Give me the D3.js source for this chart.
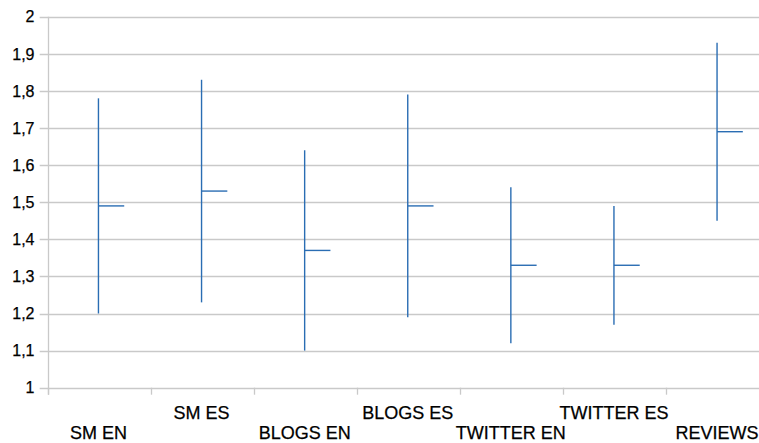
<!DOCTYPE html>
<html>
<head>
<meta charset="utf-8">
<script src="https://cdn.jsdelivr.net/npm/d3@7"></script>
<style>
  html, body { margin: 0; padding: 0; background: #fff; }
  svg { display: block; }
  text { font-family: "Liberation Sans", Arial, sans-serif; fill: #000; stroke: #000; stroke-width: 0.25px; }
</style>
</head>
<body>
<svg id="chart" width="759" height="443"></svg>
<script>
const categories = ["SM EN", "SM ES", "BLOGS EN", "BLOGS ES", "TWITTER EN", "TWITTER ES", "REVIEWS"];
const highValues = [1.78, 1.83, 1.64, 1.79, 1.54, 1.49, 1.93];
const lowValues  = [1.20, 1.23, 1.10, 1.19, 1.12, 1.17, 1.45];
const closeValues = [1.49, 1.53, 1.37, 1.49, 1.33, 1.33, 1.69];
const yTickValues = [1, 1.1, 1.2, 1.3, 1.4, 1.5, 1.6, 1.7, 1.8, 1.9, 2];

const svg = d3.select("#chart");
const plotLeft = 47.7, plotRight = 769.4, plotTop = 16.7, plotBottom = 387.7;

const x = d3.scaleBand().domain(categories).range([plotLeft, plotRight]).padding(0);
const y = d3.scaleLinear().domain([1, 2]).range([plotBottom, plotTop]);
const bw = x.bandwidth();
const cx = c => x(c) + bw / 2 - 0.8;

const gridColor = "#c9c9c9";
const lineColor = "#2a6db3";

// gridlines
svg.append("g").selectAll("line").data(yTickValues).join("line")
  .attr("x1", plotLeft - 8).attr("x2", 780)
  .attr("y1", d => Math.round(y(d)) + 0.5).attr("y2", d => Math.round(y(d)) + 0.5)
  .attr("stroke", gridColor).attr("stroke-width", 1.3);

// left axis line
svg.append("line")
  .attr("x1", Math.round(plotLeft) + 0.5).attr("x2", Math.round(plotLeft) + 0.5)
  .attr("y1", y(2)).attr("y2", y(1) + 7)
  .attr("stroke", gridColor).attr("stroke-width", 1.3);

// x ticks at band boundaries
const boundaries = categories.map(c => x(c));
svg.append("g").selectAll("line").data(boundaries).join("line")
  .attr("x1", d => Math.round(d) + 0.5).attr("x2", d => Math.round(d) + 0.5)
  .attr("y1", y(1)).attr("y2", y(1) + 7)
  .attr("stroke", gridColor).attr("stroke-width", 1.3);

// y labels
svg.append("g").selectAll("text").data(yTickValues).join("text")
  .attr("x", 34.5).attr("y", d => y(d))
  .attr("dy", "0.36em")
  .attr("text-anchor", "end")
  .style("font-size", "16px")
  .text(d => String(+d.toFixed(1)).replace(".", ","));

// x labels (staggered)
svg.append("g").selectAll("text").data(categories).join("text")
  .attr("x", d => cx(d))
  .attr("y", (d, i) => i % 2 === 0 ? 439 : 419)
  .attr("text-anchor", "middle")
  .style("font-size", "18px")
  .text(d => d);

// high-low lines
const data = categories.map((c, i) => ({ c, hi: highValues[i], lo: lowValues[i], cl: closeValues[i] }));
const g = svg.append("g");
g.selectAll("line.hl").data(data).join("line").attr("class", "hl")
  .attr("x1", d => cx(d.c)).attr("x2", d => cx(d.c))
  .attr("y1", d => y(d.hi)).attr("y2", d => y(d.lo))
  .attr("stroke", lineColor).attr("stroke-width", 1.4);
g.selectAll("line.cl").data(data).join("line").attr("class", "cl")
  .attr("x1", d => cx(d.c)).attr("x2", d => cx(d.c) + bw * 0.25)
  .attr("y1", d => y(d.cl)).attr("y2", d => y(d.cl))
  .attr("stroke", lineColor).attr("stroke-width", 1.4);
</script>
</body>
</html>
